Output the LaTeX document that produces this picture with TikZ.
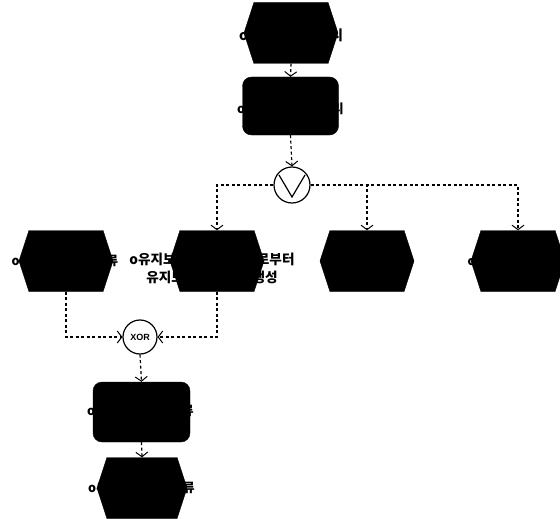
\documentclass[tikz,border=0pt]{standalone}
\usepackage{fontspec}
\newfontfamily\kr{Noto Sans CJK KR}
\newfontfamily\arialf{Liberation Sans}
\usetikzlibrary{shapes.symbols,arrows.meta}
\begin{document}
\begin{tikzpicture}[x=1pt,y=-1pt,
  evt/.style={signal, signal to=west and east, signal pointer angle=144, fill=black, draw=black, inner sep=0pt, minimum width=94pt, minimum height=61pt},
  fn/.style={rectangle, rounded corners=9pt, fill=black, draw=black, inner sep=0pt, minimum width=96pt, minimum height=58pt},
  lbl/.style={align=center, inner sep=0pt, text=black},
  flow/.style={line width=1.2pt, dash pattern=on 3pt off 2.5pt, -{Straight Barb[length=4.5pt,width=12pt,line width=1pt]}},
  gate/.style={circle, draw=black, line width=1.2pt, fill=white, minimum size=36pt, inner sep=0pt}]
\useasboundingbox (0,0) rectangle (560,519);

% nodes
\node[evt] (e0) at (291,33) {};
\node[lbl, font={\kr\bfseries\fontsize{13.8}{16}\selectfont}] (t0) at (291,35) {o설비 고장 발생시};

\node[fn] (f1) at (290.5,106) {};
\node[lbl, font={\kr\bfseries\fontsize{12.6}{15}\selectfont}] (tf1) at (290.5,109) {o유지보수 요청 처리};

\node[gate] (or) at (292,185) {};
\draw[line width=1.2pt] ([shift={(-13,-10)}]or.center) -- ([shift={(0,12)}]or.center) -- ([shift={(13,-10)}]or.center);

\node[evt] (h1) at (66,261) {};
\node[lbl, font={\kr\bfseries\fontsize{12.6}{15}\selectfont}] (th1) at (65,261) {o유지보수 오더 보류};

\node[evt] (h2) at (217,261) {};
\node[lbl, font={\kr\bfseries\fontsize{13.6}{18}\selectfont}] (th2) at (212,268) {o유지보수 요청 통지서로부터\\유지보수 작업지시 생성};

\node[evt] (h3) at (367,261) {};

\node[evt] (h4) at (518,261) {};
\node[lbl, font={\kr\bfseries\fontsize{12}{15}\selectfont}] (th4) at (506,261) {o유지보수 완료};

\node[gate, minimum size=34pt] (xor) at (140,337) {\arialf\bfseries\fontsize{9}{10}\selectfont XOR};

\node[fn, minimum width=97pt, minimum height=60pt] (f2) at (141.5,412) {};
\node[lbl, font={\kr\bfseries\fontsize{12.6}{15}\selectfont}] (tf2) at (140.5,411) {o유지보수 오더 보류};

\node[evt, minimum width=90pt] (e5) at (142,488) {};
\node[lbl, font={\kr\bfseries\fontsize{12.6}{15}\selectfont}] (te5) at (141.5,488) {o유지보수 오더 보류};

% connectors
\draw[flow] (e0.south) -- (f1.north);
\draw[flow] (f1.south) -- (or.north);
\draw[flow] (or.west) -| (h2.north);
\draw[flow] (or.east) -| (h3.north);
\draw[flow] (or.east) -| (h4.north);
\draw[flow] (h1.south) |- (xor.west);
\draw[flow] (h2.south) |- (xor.east);
\draw[flow] (xor.south) -- (f2.north);
\draw[flow] (f2.south) -- (e5.north);
\end{tikzpicture}
\end{document}
